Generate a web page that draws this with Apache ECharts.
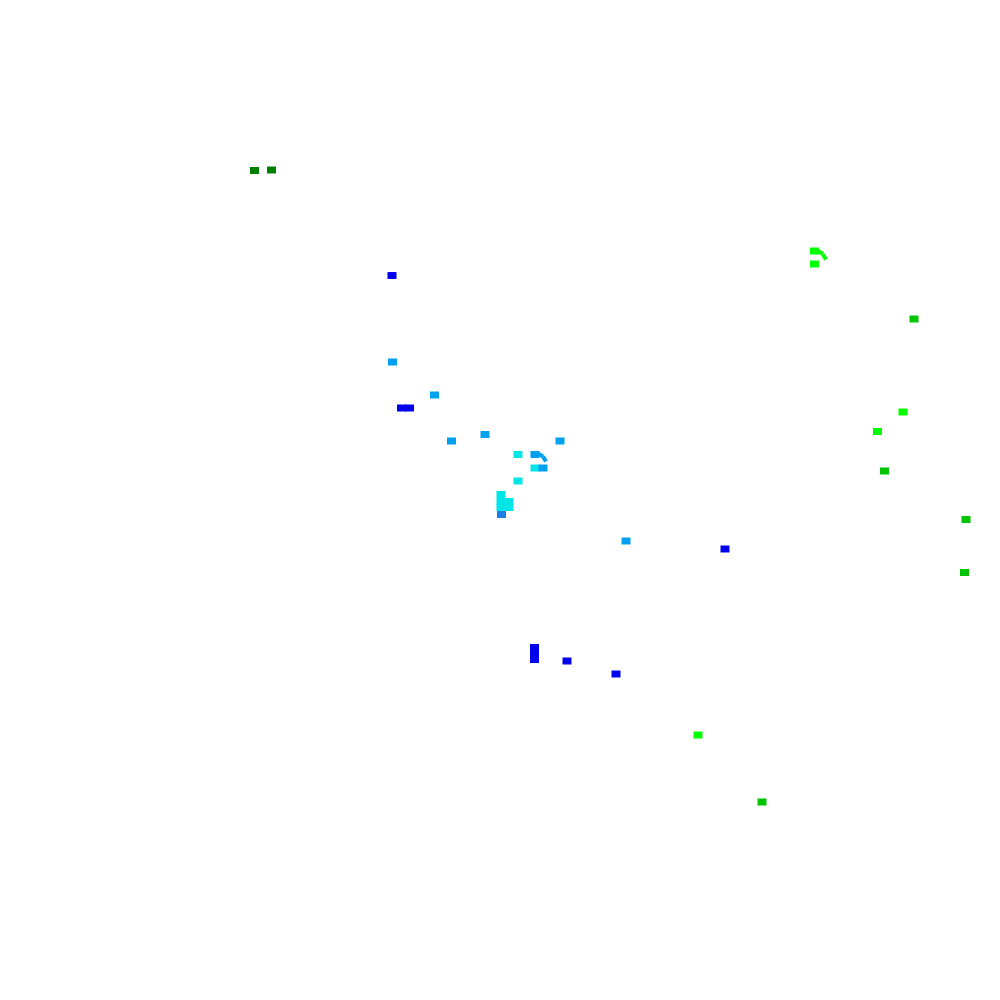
<!DOCTYPE html>
<html>
<head>
<meta charset="utf-8">
<script src="https://cdn.jsdelivr.net/npm/echarts@6/dist/echarts.min.js"></script>
<style>html,body{margin:0;padding:0;background:#fff}#c{width:1000px;height:1000px}</style>
</head>
<body>
<div id="c"></div>
<script>
// Cell positions (x, y) and colour group for each mark
var xs     = [254.5, 271.5, 814.5, 814.5, 392, 392.5, 434.5, 401.5, 409.5, 451.5, 485, 560, 518, 535, 535, 543, 518, 501, 501, 509, 501, 509, 501.5, 626, 725, 534.5, 534.5, 534.5, 567, 616, 698, 762, 914, 903, 877.5, 884.5, 966, 964.5];
var ys     = [170.5, 170, 251, 264, 275.5, 362, 395, 408, 408, 441, 434.5, 441, 454.5, 454.5, 468, 468, 481, 494.5, 501.5, 501.5, 507.5, 507.5, 514.5, 541, 549, 647.5, 653.5, 659.5, 661, 674, 735, 802, 319, 412, 431.5, 471, 519.5, 572.5];
var groups = [5, 5, 3, 3, 0, 1, 1, 0, 0, 1, 1, 1, 2, 1, 2, 1, 2, 2, 2, 2, 2, 2, 6, 1, 0, 0, 0, 0, 0, 0, 3, 4, 4, 3, 3, 4, 4, 4];
// Curved trail fragments (hooks)
var hookX = [820.5, 824.5, 540.5, 544.5];
var hookY = [252.5, 257, 455, 459];
var hookRot = [-30, -60, -30, -60];
var hookGroup = [3, 3, 1, 1];
var palette = ['#0000ee', '#00a0f0', '#00e6e6', '#00ff00', '#00c400', '#008000', '#1a80e6'];

var main = [];
for (var i = 0; i < xs.length; i++) {
  main.push({value: [xs[i], ys[i]], itemStyle: {color: palette[groups[i]], opacity: 1}});
}
var hooks = [];
for (var j = 0; j < hookX.length; j++) {
  hooks.push({value: [hookX[j], hookY[j]], symbolRotate: hookRot[j], itemStyle: {color: palette[hookGroup[j]], opacity: 1}});
}

var chart = echarts.init(document.getElementById('c'));
chart.setOption({
  animation: false,
  backgroundColor: '#ffffff',
  grid: {left: 0, right: 0, top: 0, bottom: 0},
  xAxis: {type: 'value', min: 0, max: 1000, show: false},
  yAxis: {type: 'value', min: 0, max: 1000, inverse: true, show: false},
  series: [
    {type: 'scatter', symbol: 'rect', symbolSize: [9, 7], data: main, silent: true, itemStyle: {opacity: 1}},
    {type: 'scatter', symbol: 'rect', symbolSize: [6, 4], data: hooks, silent: true, itemStyle: {opacity: 1}}
  ]
});
</script>
</body>
</html>
